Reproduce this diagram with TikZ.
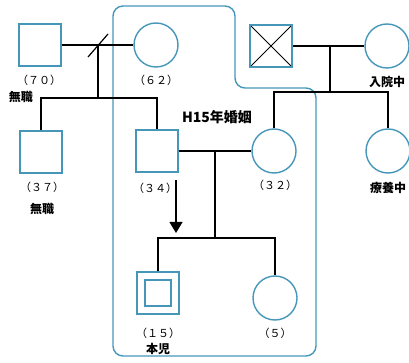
\documentclass[tikz,border=0pt]{standalone}
\usepackage{fontspec}
\newfontfamily\jp{Noto Sans CJK JP}
\usetikzlibrary{arrows.meta}
\definecolor{famblue}{RGB}{70,150,185}
\tikzset{
	male/.style={draw=famblue, line width=1.4pt, minimum size=42pt, inner sep=0pt},
	female/.style={draw=famblue, circle, line width=1.4pt, minimum size=44pt, inner sep=0pt},
	kin/.style={line width=1.2pt},
	agelabel/.style={font=\jp\fontsize{11}{11}\selectfont},
	notelabel/.style={font=\jp\bfseries\fontsize{12}{12}\selectfont},
}

\begin{document}
\begin{tikzpicture}[x=1pt,y=-1pt]
			%%%%% START %%%%%
			\useasboundingbox (0,0) rectangle (409,363);
			
			\draw[famblue, line width=1.4pt, rounded corners=10pt] (113,356) -- (113,6) -- (235,6) -- (235,88) -- (316,88) -- (316,356) -- cycle;
			
			\node[male] (gf) at (40,45) {};
			\node[female] (gm) at (156,45) {};
			\node[male] (uncle) at (41,152) {};
			\node[male] (father) at (157,151) {};
			
			\node[male, path picture={\draw[black, line width=0.8pt] (path picture bounding box.north west) -- (path picture bounding box.south east) (path picture bounding box.north east) -- (path picture bounding box.south west);}] (mgf) at (271,46) {};
			\node[female] (mgm) at (387,46) {};
			\node[female] (mother) at (274,151) {};
			\node[female] (aunt) at (388,151) {};
			
			\node[male] (child) at (158,293) {};
			\node[male, minimum size=26pt] (childin) at (child) {};
			\node[female] (sister) at (275,298) {};
			
			\coordinate (gfm) at (98,45);
			\coordinate (sibs) at (98,98);
			\draw[kin] (gf.east) -- (gm.west);
			\draw[kin] ([shift={(-10,12)}]gfm) -- ([shift={(10,-11)}]gfm);
			\draw[kin] (gfm) -- (sibs);
			\draw[kin] (uncle.north) |- (sibs) -| (father.north);
			
			\coordinate (mgfm) at (330,46);
			\coordinate (msibs) at (330,92);
			\draw[kin] (mgf.east) -- (mgm.west);
			\draw[kin] (mgfm) -- (msibs);
			\draw[kin] (mother.north) |- (msibs) -| (aunt.north);
			
			\coordinate (pm) at (215,151);
			\coordinate (kids) at (215,238);
			\draw[kin] (father.east) -- (mother.west);
			\draw[kin] (pm) -- (kids);
			\draw[kin] (child.north) |- (kids) -| (sister.north);
			
			\coordinate (arrtop) at (176,180);
			\coordinate (arrtip) at (176,233);
			\draw[kin, -{Triangle[length=11pt,width=13pt]}] (arrtop) -- (arrtip);
			
			\node[agelabel] (gfage) at (39,80) {（７０）};
			\node[notelabel] (gfnote) at (21,97) {無職};
			\node[agelabel] (gmage) at (156,80) {（６２）};
			\node[agelabel] (uncleage) at (42,187) {（３７）};
			\node[notelabel] (unclenote) at (42,209) {無職};
			\node[agelabel] (fatherage) at (155,188) {（３４）};
			\node[agelabel] (motherage) at (275,185) {（３２）};
			\node[notelabel] (mgmnote) at (387,82) {入院中};
			\node[notelabel] (auntnote) at (388,188) {療養中};
			\node[agelabel] (childage) at (158,333) {（１５）};
			\node[notelabel] (childnote) at (158,349) {本児};
			\node[agelabel] (sisterage) at (275,333) {（５）};
			\node[notelabel, font=\jp\bfseries\fontsize{14}{14}\selectfont] (wed) at (217,117) {H15年婚姻};
			
			%%%%% END %%%%%
\end{tikzpicture}
\end{document}
